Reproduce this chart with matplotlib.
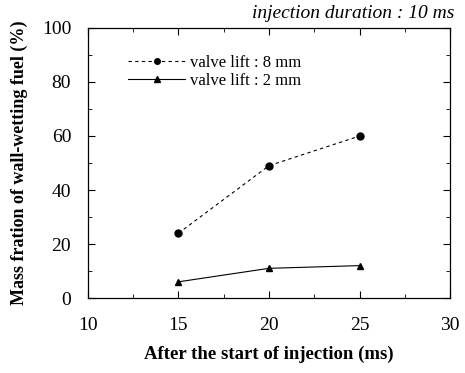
import matplotlib
matplotlib.use("Agg")
import matplotlib.pyplot as plt
from matplotlib.ticker import MultipleLocator

time_ms = [15, 20, 25]
lift8 = [24, 49, 60]
lift2 = [6, 11, 12]
label8 = "valve lift : 8 mm"
label2 = "valve lift : 2 mm"

plt.rcParams['font.family'] = ['Liberation Serif', 'DejaVu Serif']

fig = plt.figure(figsize=(4.65, 3.73), dpi=100)
ax = fig.add_axes([0.189, 0.201, 0.779, 0.724])

ax.plot(time_ms, lift8, linestyle=(0, (3, 3)), color='black', lw=0.8,
        marker='o', markersize=5, label=label8)
ax.plot(time_ms, lift2, linestyle='-', color='black', lw=0.8,
        marker='^', markersize=5, label=label2)

ax.set_xlim(10, 30)
ax.set_ylim(0, 100)
ax.xaxis.set_major_locator(MultipleLocator(5))
ax.xaxis.set_minor_locator(MultipleLocator(2.5))
ax.yaxis.set_major_locator(MultipleLocator(20))
ax.yaxis.set_minor_locator(MultipleLocator(10))
ax.tick_params(which='both', direction='in', top=True, right=True, labelsize=14)
ax.tick_params(axis='x', which='major', length=5, pad=14)
ax.tick_params(axis='y', which='major', length=5, pad=12)
ax.tick_params(which='minor', length=3)
for s in ax.spines.values():
    s.set_linewidth(0.9)

ax.set_xlabel("After the start of injection (ms)", fontsize=13.5, fontweight='bold', labelpad=8)
ax.set_ylabel("Mass fration of wall-wetting fuel (%)", fontsize=13, fontweight='bold', labelpad=10)

leg = ax.legend(loc='upper left', bbox_to_anchor=(0.07, 0.955), frameon=False,
                fontsize=12, handlelength=3.4, handletextpad=0.3, labelspacing=0.1,
                markerscale=0.8)

fig.text(0.978, 0.965, "injection duration : 10 ms", ha='right', va='center',
         fontsize=14, style='italic')

fig.savefig("out.png", dpi=100)
